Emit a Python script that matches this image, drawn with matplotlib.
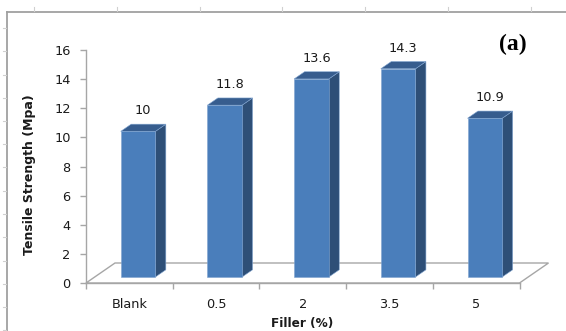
import numpy as np
import matplotlib
matplotlib.use("Agg")
import matplotlib.pyplot as plt
from matplotlib.patches import Polygon
from matplotlib.lines import Line2D

# Data
categories = ["Blank", "0.5", "2", "3.5", "5"]
tensile_strength = [10, 11.8, 13.6, 14.3, 10.9]
y_ticks = [0, 2, 4, 6, 8, 10, 12, 14, 16]

W, H = 566, 331
fig = plt.figure(figsize=(W / 100, H / 100), dpi=100)
fig.patch.set_facecolor("white")

# Plot area (front edge of the floor is the x axis)
left_px, right_px, top_px, bottom_px = 86, 519.5, 50, 283
ax = fig.add_axes([left_px / W, 1 - bottom_px / H,
                   (right_px - left_px) / W, (bottom_px - top_px) / H])
ax.set_xlim(-0.5, 4.5)
ax.set_ylim(0, 16)
ax.set_facecolor("none")

px_per_cat = (right_px - left_px) / 5.0
px_per_val = (bottom_px - top_px) / 16.0

# Depth vector of the floor (in data units)
depth_dx = 29 / px_per_cat
depth_dy = 20 / px_per_val

axis_col = "#A6A6A6"
for s in ["top", "right"]:
    ax.spines[s].set_visible(False)
ax.spines["left"].set_color(axis_col)
ax.spines["bottom"].set_color(axis_col)
ax.spines["left"].set_linewidth(1.0)
ax.spines["bottom"].set_linewidth(1.0)

ax.set_yticks(y_ticks)
ax.set_yticklabels([str(t) for t in y_ticks], fontsize=9.3, color="#1a1a1a")
ax.tick_params(axis="y", direction="out", length=4, width=1, color=axis_col, pad=7)

ax.set_xticks(np.arange(-0.5, 5.0, 1.0))
ax.set_xticklabels([])
ax.tick_params(axis="x", which="major", direction="out", length=4, width=1, color=axis_col)
ax.set_xticks(np.arange(len(categories)), minor=True)
ax.set_xticklabels(categories, minor=True, fontsize=9.3, color="#1a1a1a")
ax.tick_params(axis="x", which="minor", length=0, pad=11)

# Floor outline
x0, x1 = -0.5, 4.5
floor = [(x0, 0), (x1, 0), (x1 + depth_dx, depth_dy), (x0 + depth_dx, depth_dy)]
ax.add_patch(Polygon(floor, closed=True, facecolor="none", edgecolor=axis_col,
                     linewidth=1.0, clip_on=False, zorder=1))

# 3D columns
front_col = "#4A7EBB"
top_col = "#375D8E"
side_col = "#2E4F77"
edge_col = "#7FA3CF"
f0, f1 = 0.30, 0.66
bar_w = 0.40
for i, v in enumerate(tensile_strength):
    bx = i + f0 * depth_dx
    by = f0 * depth_dy
    ddx = (f1 - f0) * depth_dx
    ddy = (f1 - f0) * depth_dy
    xl, xr = bx - bar_w / 2, bx + bar_w / 2
    front = [(xl, by), (xr, by), (xr, by + v), (xl, by + v)]
    side = [(xr, by), (xr + ddx, by + ddy), (xr + ddx, by + v + ddy), (xr, by + v)]
    top = [(xl, by + v), (xr, by + v), (xr + ddx, by + v + ddy), (xl + ddx, by + v + ddy)]
    ax.add_patch(Polygon(side, closed=True, facecolor=side_col, edgecolor=edge_col,
                         linewidth=0.4, clip_on=False, zorder=3))
    ax.add_patch(Polygon(top, closed=True, facecolor=top_col, edgecolor=edge_col,
                         linewidth=0.4, clip_on=False, zorder=3))
    ax.add_patch(Polygon(front, closed=True, facecolor=front_col, edgecolor=edge_col,
                         linewidth=0.4, clip_on=False, zorder=4))
    ax.annotate(f"{v:g}", xy=(bx + ddx / 2, by + v + ddy), xytext=(0, 5),
                textcoords="offset points", ha="center", va="bottom",
                fontsize=9.3, color="#1a1a1a", zorder=5, annotation_clip=False)

ax.set_xlabel("Filler (%)", fontsize=8.7, fontweight="bold", color="#1a1a1a")
ax.xaxis.set_label_coords((302 - left_px) / (right_px - left_px),
                          -(323 - bottom_px) / (bottom_px - top_px))
ax.set_ylabel("Tensile Strength (Mpa)", fontsize=9, fontweight="bold", color="#1a1a1a")
ax.yaxis.set_label_coords((30 - left_px) / (right_px - left_px),
                          (bottom_px - 175) / (bottom_px - top_px))
ax.yaxis.label.set_va("center")
ax.xaxis.label.set_va("center")

# Panel tag
fig.text(513 / W, 1 - 44 / H, "(a)", fontsize=17, fontweight="bold",
         family="Liberation Serif", ha="center", va="center", color="black")

# Chart frame with ruler ticks
frame_col = "#A0A0A0"
fig.add_artist(Line2D([7 / W, 1.0], [1 - 12 / H, 1 - 12 / H], color=frame_col,
                      linewidth=1.3, transform=fig.transFigure))
fig.add_artist(Line2D([7 / W, 7 / W], [0, 1 - 12 / H], color=frame_col,
                      linewidth=1.3, transform=fig.transFigure))
for tx in np.arange(34, W, 82.8):
    fig.add_artist(Line2D([tx / W, tx / W], [1 - 7 / H, 1 - 11 / H], color="#D0D0D0",
                          linewidth=0.8, transform=fig.transFigure))
for ty in np.arange(28, H, 23.25):
    fig.add_artist(Line2D([3 / W, 6 / W], [1 - ty / H, 1 - ty / H], color="#D0D0D0",
                          linewidth=0.8, transform=fig.transFigure))

fig.savefig("out.png", dpi=100, facecolor="white")
